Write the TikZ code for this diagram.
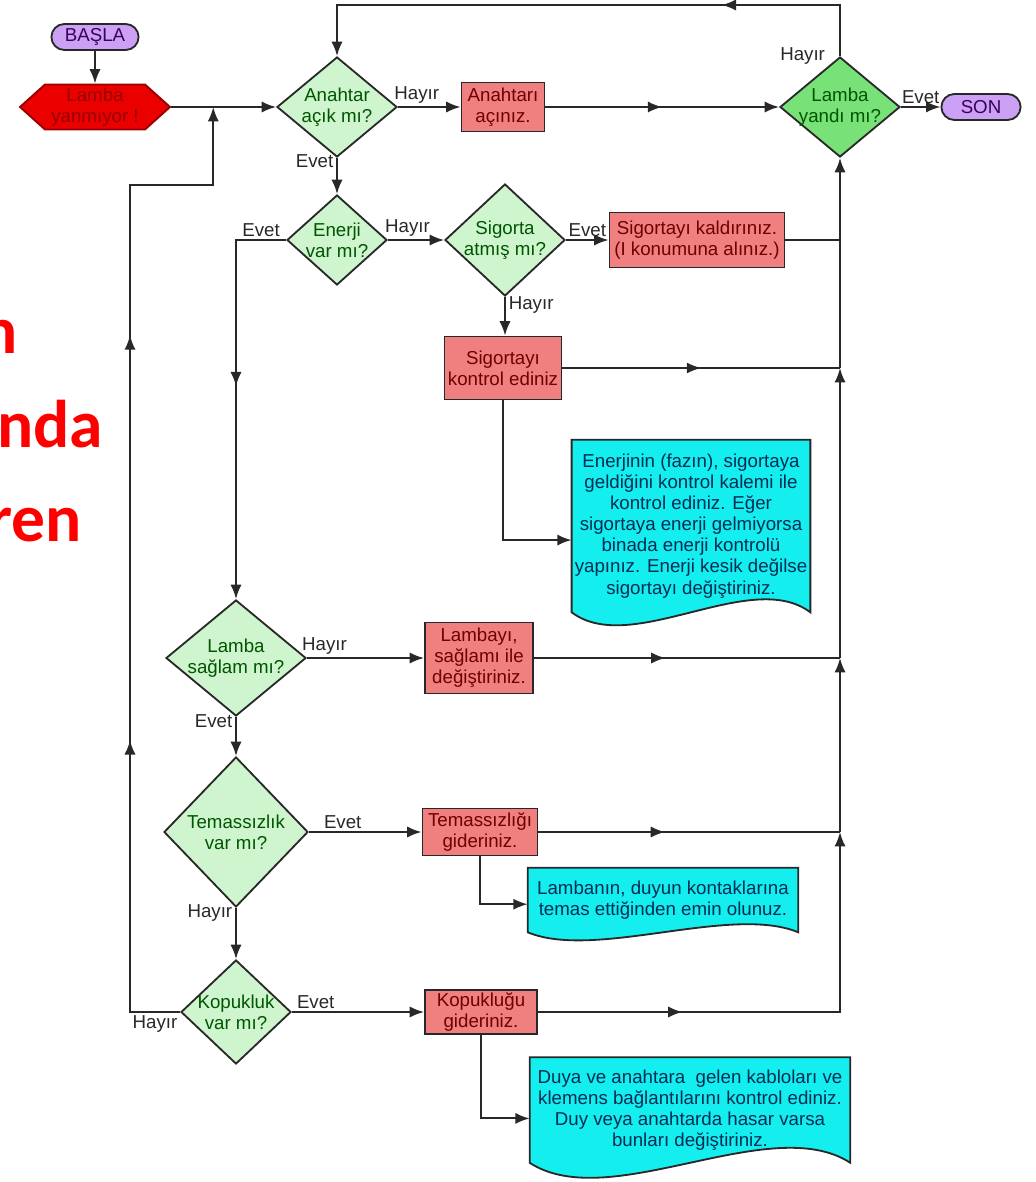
\documentclass[tikz,border=0pt]{standalone}
\usepackage{fontspec}
\setmainfont{Liberation Sans}
\newfontfamily\yanfont{Carlito}
\usetikzlibrary{calc, positioning, arrows.meta, shapes.geometric, shapes.misc,
                shapes.symbols, decorations.markings, backgrounds}
\definecolor{colCizgi}{RGB}{40, 40, 40}
\definecolor{colTerm}{RGB}{204, 160, 245}
\definecolor{colTermTxt}{RGB}{60, 0, 90}
\definecolor{colHexa}{RGB}{235, 0, 0}
\definecolor{colHexaTxt}{RGB}{150, 0, 0}
\definecolor{colKarar}{RGB}{206, 245, 206}
\definecolor{colKararKoyu}{RGB}{120, 225, 120}
\definecolor{colKararTxt}{RGB}{0, 85, 0}
\definecolor{colIslem}{RGB}{240, 128, 128}
\definecolor{colIslemTxt}{RGB}{110, 0, 0}
\definecolor{colBelge}{RGB}{20, 238, 238}
\definecolor{colBelgeTxt}{RGB}{0, 45, 85}
\definecolor{colYan}{RGB}{255, 0, 0}

\begin{document}
\begin{tikzpicture}[
  x=0.025cm, y=-0.025cm,
  >={Latex[length=3.6mm, width=2.8mm]},
  every node/.style={font=\fontsize{13.3}{15}\selectfont},
  cizgi/.style={draw=colCizgi, line width=1.4pt},
  term/.style={rounded rectangle, draw=colCizgi, line width=1.3pt,
               fill=colTerm, text=colTermTxt, minimum height=0.65cm,
               inner sep=1pt},
  hexa/.style={signal, signal to=east and west, signal pointer angle=84,
               draw=colHexaTxt, fill=colHexa, text=colHexaTxt,
               line width=1.3pt, minimum width=3.75cm,
               minimum height=1.125cm, inner sep=1pt, align=center},
  karar/.style={diamond, draw=colCizgi, line width=1.3pt, fill=colKarar,
                text=colKararTxt, inner sep=-3pt, align=center},
  islem/.style={rectangle, draw=colCizgi, line width=1.3pt, fill=colIslem,
                text=colIslemTxt, inner sep=2pt, align=center},
  belge/.style={rectangle, text=colBelgeTxt, inner sep=2pt, align=center},
  belgecizgi/.style={draw=colCizgi, line width=1.3pt, fill=colBelge},
  lbl/.style={text=colCizgi, inner sep=2pt},
  yan/.style={font=\yanfont\bfseries\fontsize{48}{50}\selectfont,
              text=colYan, inner sep=0pt},
  ortaok/.style={postaction={decorate},
                 decoration={markings, mark=at position #1 with {\arrow{>}}}}
]
\useasboundingbox (0,0) rectangle (1036,1182);

% ---------- Soldaki kesik yazi ----------
\begin{scope}
  \clip (0,0) rectangle (1036,1182);
  \node[yan, anchor=base east] (yan1) at (18,353) {n};
  \node[yan, anchor=base west] (yan2) at (-3,447) {nda};
  \node[yan, anchor=base west] (yan3) at (-12,541) {ren};
\end{scope}

% ---------- Ust sira ----------
\node[term, minimum width=2.25cm] (basla) at (95,37) {BAŞLA};
\node[hexa] (lamba) at (95,107) {Lamba\\yanmıyor !};
\node[karar, minimum width=3cm, minimum height=2.5cm, aspect=1.2]
  (anah) at (337,107) {Anahtar\\açık mı?};
\node[islem, minimum width=2.075cm, minimum height=1.225cm]
  (acin) at (503,107) {Anahtarı\\açınız.};
\node[karar, fill=colKararKoyu, minimum width=3cm, minimum height=2.5cm,
      aspect=1.2] (lyan) at (840,107) {Lamba\\yandı mı?};
\node[term, minimum width=2.05cm] (son) at (981,107) {SON};

% ---------- Enerji / sigorta ----------
\node[karar, minimum width=2.5cm, minimum height=2.25cm, aspect=1.1]
  (ener) at (337,240) {Enerji\\var mı?};
\node[karar, minimum width=3cm, minimum height=2.8cm, aspect=1.07]
  (sigo) at (505,240) {Sigorta\\atmış mı?};
\node[islem, minimum width=4.375cm, minimum height=1.375cm]
  (kald) at (697,240) {Sigortayı kaldırınız.\\(I konumuna alınız.)};
\node[islem, minimum width=2.925cm, minimum height=1.575cm]
  (skon) at (503,368) {Sigortayı\\kontrol ediniz};
\node[belge, minimum width=5.95cm, minimum height=4.3cm] (not1) at (691,526)
  {Enerjinin (fazın), sigortaya\\geldiğini kontrol kalemi ile\\
   kontrol ediniz. Eğer\\sigortaya enerji gelmiyorsa\\binada enerji kontrolü\\
   yapınız. Enerji kesik değilse\\sigortayı değiştiriniz.};

% ---------- Lamba / temas / kopukluk ----------
\node[karar, minimum width=3.5cm, minimum height=2.9cm, aspect=1.2]
  (lsag) at (236,658) {Lamba\\sağlam mı?};
\node[islem, minimum width=2.7cm, minimum height=1.775cm]
  (ldeg) at (479,658) {Lambayı,\\sağlamı ile\\değiştiriniz.};
\node[karar, minimum width=3.6cm, minimum height=3.75cm, aspect=0.96]
  (tema) at (236,832) {Temassızlık\\var mı?};
\node[islem, minimum width=2.875cm, minimum height=1.175cm]
  (tgid) at (480,832) {Temassızlığı\\gideriniz.};
\node[belge, minimum width=6.75cm, minimum height=1.6cm] (not2) at (663,900)
  {Lambanın, duyun kontaklarına\\temas ettiğinden emin olunuz.};
\node[karar, minimum width=2.75cm, minimum height=2.6cm, aspect=1.06]
  (kopu) at (236,1012) {Kopukluk\\var mı?};
\node[islem, minimum width=2.8cm, minimum height=1.075cm]
  (kgid) at (481,1012) {Kopukluğu\\gideriniz.};
\node[belge, minimum width=8cm, minimum height=2.625cm] (not3) at (690,1110)
  {Duya ve anahtara\ \ gelen kabloları ve\\klemens bağlantılarını kontrol ediniz.\\
   Duy veya anahtarda hasar varsa\\bunları değiştiriniz.};

% belge sekilleri (dalgali alt kenar)
\begin{scope}[on background layer]
  \foreach \n/\a in {not1/45, not2/28, not3/52}
    \draw[belgecizgi] (\n.north west) -- (\n.north east) -- (\n.south east)
      .. controls ($(\n.south)!0.5!(\n.south east)+(0,-\a)$)
             and ($(\n.south)!0.5!(\n.south west)+(0,\a)$) .. (\n.south west)
      -- cycle;
\end{scope}

% ---------- Yardimci noktalar ----------
\coordinate (j0) at ($(lamba.east)!0.4!(anah.west)$);
\coordinate (tepe) at (0,5);
\coordinate (sx) at (130,185);
\coordinate (r1) at (lyan.south |- kald.east);
\coordinate (r2) at (lyan.south |- skon.east);
\coordinate (r3) at (lyan.south |- ldeg.east);
\coordinate (r4) at (lyan.south |- tgid.east);
\coordinate (r5) at (lyan.south |- kgid.east);

% ---------- Baglantilar ----------
\draw[cizgi, ->] (basla.south) -- (lamba.north);
\draw[cizgi, ->] (lamba.east) -- (anah.west);
\draw[cizgi, ->] (anah.east) -- node[lbl, above, pos=0.3] {Hayır} (acin.west);
\draw[cizgi, ->, ortaok=0.5] (acin.east) -- (lyan.west);
\draw[cizgi, ->] (lyan.east) -- node[lbl, above] {Evet} (son.west);
% Hayir: en uste cik, geri don
\draw[cizgi, ->, ortaok=0.28]
  (lyan.north) -- node[lbl, left=8pt, pos=0] {Hayır} (lyan.north |- tepe)
  -- (anah.north |- tepe) -- (anah.north);
\draw[cizgi, ->] (anah.south) -- node[lbl, left, pos=0.1] {Evet} (ener.north);
\draw[cizgi, ->, ortaok=0.48]
  (ener.west) -- node[lbl, above] {Evet} (ener.west -| lsag.north)
  -- (lsag.north);
\draw[cizgi, ->] (ener.east) -- node[lbl, above, pos=0.35] {Hayır} (sigo.west);
\draw[cizgi, ->] (sigo.east) -- node[lbl, above] {Evet} (kald.west);
\draw[cizgi] (kald.east) -- (r1);
\draw[cizgi, ->] (sigo.south) -- node[lbl, right, pos=0.2] {Hayır}
  (sigo.south |- skon.north);
\draw[cizgi, ortaok=0.5] (skon.east) -- (r2);
\draw[cizgi, ->] (skon.south) |- ([yshift=-10pt]not1.west);

\draw[cizgi, ->] (lsag.east) -- node[lbl, above, pos=0.15] {Hayır} (ldeg.west);
\draw[cizgi, ortaok=0.43] (ldeg.east) -- (r3);
\draw[cizgi, ->] (lsag.south) -- node[lbl, left, pos=0.1] {Evet} (tema.north);
\draw[cizgi, ->] (tema.east) -- node[lbl, above, pos=0.3] {Evet} (tgid.west);
\draw[cizgi, ortaok=0.42] (tgid.east) -- (r4);
\draw[cizgi, ->] (tgid.south) |- ([yshift=-3pt]not2.west);
\draw[cizgi, ->] (tema.south) -- node[lbl, left, pos=0.1] {Hayır} (kopu.north);
\draw[cizgi, ->] (kopu.east) -- node[lbl, above, pos=0.18] {Evet} (kgid.west);
\draw[cizgi, ->, ortaok=0.3] (kgid.east) -- (r5) -- (r4);
\draw[cizgi, ->] (kgid.south) |- ([yshift=-6pt]not3.west);

% sag dikey hat
\draw[cizgi, ->] (r4) -- (r3);
\draw[cizgi, ->] (r3) -- (r2);
\draw[cizgi] (r2) -- (r1);
\draw[cizgi, ->] (r1) -- (lyan.south);

% Hayir: sol hattan basa don
\draw[cizgi, ->, postaction={decorate},
      decoration={markings, mark=at position 0.31 with {\arrow{>}},
                  mark=at position 0.70 with {\arrow{>}}}]
  (kopu.west) -- node[lbl, below] {Hayır} (kopu.west -| sx) -- (sx)
  -- (sx -| j0) -- (j0);

\end{tikzpicture}
\end{document}
